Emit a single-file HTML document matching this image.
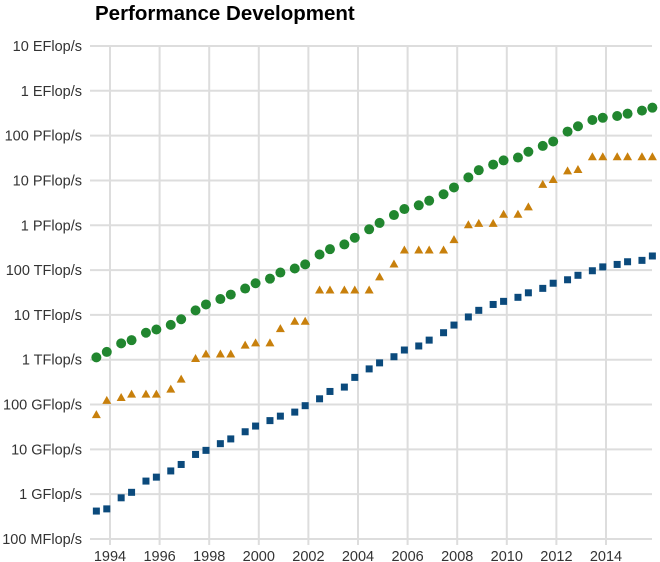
<!DOCTYPE html>
<html><head><meta charset="utf-8"><style>
body{margin:0;background:#fff}
svg{display:block;font-family:"Liberation Sans",Arial,sans-serif}
</style></head><body>
<svg id="c" width="660" height="562" xmlns="http://www.w3.org/2000/svg">
<text x="95" y="20" font-size="20.5" font-weight="bold" fill="#000">Performance Development</text>
<g id="g"></g>
</svg>
<script>
const ns="http://www.w3.org/2000/svg",g=document.getElementById('g');
function el(t,a,txt){const e=document.createElementNS(ns,t);for(const k in a)e.setAttribute(k,a[k]);if(txt)e.textContent=txt;g.appendChild(e);return e;}
const X=y=>110+(y-1994)*24.8;
const Y=gf=>539-Math.log10(gf*10)*44.82;
const labs=["100 MFlop/s","1 GFlop/s","10 GFlop/s","100 GFlop/s","1 TFlop/s","10 TFlop/s","100 TFlop/s","1 PFlop/s","10 PFlop/s","100 PFlop/s","1 EFlop/s","10 EFlop/s"];
for(let yr=1994;yr<=2014;yr+=2){el('line',{x1:X(yr),x2:X(yr),y1:46,y2:545,stroke:'#ddd','stroke-width':2});
el('text',{x:X(yr),y:561,'font-size':14.5,'text-anchor':'middle',fill:'#333'},String(yr));}
labs.forEach((l,i)=>{const y=539-i*44.82;el('line',{x1:90,x2:652,y1:y,y2:y,stroke:'#ddd','stroke-width':2});
el('text',{x:82,y:y+5,'font-size':14.5,'text-anchor':'end',fill:'#333'},l);});
const sum=[1128,1493,2317,2732,3994,4722,5987,7990,12600,17096,22565,28397,38694,50846,64292,88101,108470,134240,222790,293000,374000,528000,813000,1127000,1690000,2300000,2790000,3540000,4920000,6970000,11700000,16950000,22600000,27950000,32400000,43700000,58900000,74100000,123000000,162000000,223000000,250000000,274000000,309000000,361000000,420000000];
const n1=[59.7,124,143.4,170.4,170.4,170.4,220.4,368.2,1068,1338,1338,1338,2121,2379,2379,4938,7226,7226,35860,35860,35860,35860,35860,70720,136800,280600,280600,280600,280600,478200,1026000,1105000,1105000,1759000,1759000,2566000,8162000,10510000,16320000,17590000,33860000,33860000,33860000,33860000,33860000,33860000];
const n500=[0.42,0.47,0.83,1.1,1.96,2.4,3.3,4.6,7.7,9.5,13.4,17.1,24.7,33.1,43.8,55.1,67.8,94.3,134.3,195.8,245.1,403.4,624,850.6,1166,1646,2026,2737,4005,5929,9000,12640,17090,20050,24670,31120,39090,50900,60800,76500,96620,117800,133700,153400,164700,206300];
for(let i=0;i<46;i++){const yr=1993+Math.floor(i/2)+(i%2?0.87:0.45),x=X(yr);
let y=Y(n500[i]);el('rect',{x:x-3.5,y:y-3.5,width:7,height:7,fill:'#0b4a7c'});
y=Y(n1[i]);el('polygon',{points:`${x-4.5},${y+3.5} ${x+4.5},${y+3.5} ${x},${y-4.5}`,fill:'#c8800c'});
y=Y(sum[i]);el('circle',{cx:x,cy:y,r:5,fill:'#21862f'});}
</script>
</body></html>
